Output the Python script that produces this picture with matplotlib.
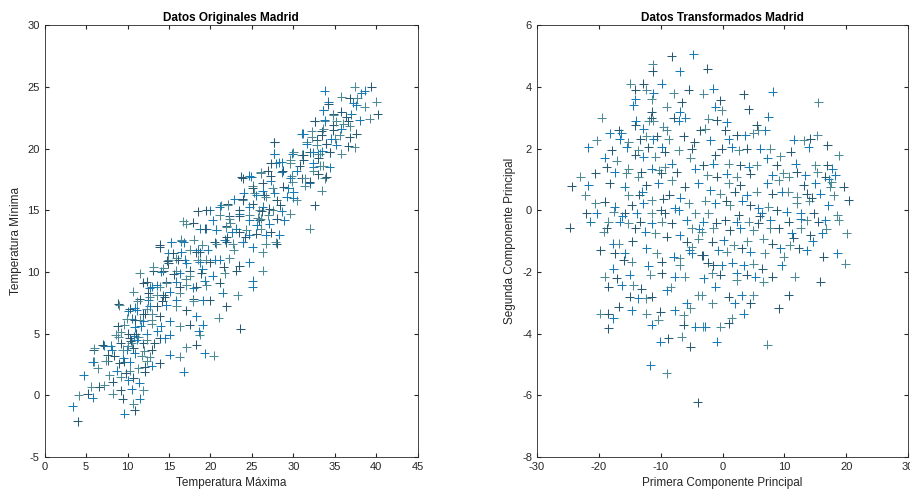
import numpy as np
import matplotlib.pyplot as plt

# (Temperatura Maxima, Temperatura Minima)
original = [
    (4.0, -2.1), (3.4, -0.9), (4.1, 0.0), (5.2, 0.1), (4.7, 1.6), (5.9, 2.7), (5.9, 3.7), (7.2, 4.0),
    (5.6, 0.7), (6.6, 0.7), (5.8, -0.2), (8.2, 0.1), (9.4, -0.3), (9.6, -1.5), (10.7, -0.7), (10.9, -1.2),
    (11.5, -0.3), (11.9, 0.4), (8.9, 7.4), (10.1, 6.8), (7.2, 0.8), (8.2, 1.1), (8.7, 2.0), (9.2, 1.5),
    (7.6, 2.8), (8.1, 3.7), (8.9, 4.7), (9.6, 2.7), (9.9, 3.7), (10.5, 4.2), (10.1, 5.0), (10.9, 5.5),
    (11.5, 6.1), (12.1, 6.6), (12.7, 7.2), (11.3, 4.7), (11.9, 4.2), (12.3, 5.0), (12.9, 5.8), (10.7, 1.4),
    (10.1, 1.2), (11.3, 2.2), (12.1, 1.9), (10.9, 3.4), (11.7, 3.2), (12.9, 3.7), (12.9, 2.4), (10.3, 2.0),
    (9.2, 0.4), (10.5, 0.5), (12.3, 2.8), (11.9, 6.6), (10.5, 6.2), (9.6, 5.7), (9.2, 4.2),
    (16.5, 12.5), (15.3, 12.4), (13.9, 12.2), (14.9, 11.5), (15.9, 11.1), (14.9, 10.7), (16.9, 11.0),
    (11.5, 9.9), (13.1, 10.1), (14.1, 10.0), (15.9, 10.1), (17.5, 10.1), (18.7, 10.8), (19.5, 11.0),
    (18.3, 11.6), (18.7, 13.5), (17.1, 13.9), (11.9, 9.1), (12.7, 8.7), (13.9, 8.8), (14.7, 9.2),
    (15.9, 9.2), (17.1, 8.9), (18.3, 8.8), (19.3, 9.3), (10.7, 8.4), (11.5, 7.8), (12.5, 7.7), (13.5, 8.1),
    (14.5, 8.0), (15.1, 8.4), (16.3, 8.3), (17.9, 7.8), (19.1, 7.7), (9.0, 7.3), (10.3, 7.0), (11.1, 6.9),
    (12.3, 7.0), (13.5, 7.2), (14.7, 7.3), (15.9, 7.2), (17.1, 6.9), (18.3, 6.4), (9.9, 6.2), (10.9, 6.1),
    (11.9, 6.0), (12.9, 6.1), (13.9, 6.4), (15.1, 6.0), (16.3, 5.6), (17.5, 5.7), (19.1, 5.7), (8.6, 4.9),
    (10.3, 4.6), (11.1, 4.5), (12.3, 4.5), (13.9, 4.6), (15.1, 4.9), (17.1, 3.9), (18.3, 4.1), (19.3, 3.4),
    (6.0, 3.8), (7.0, 4.1), (8.0, 4.0), (9.4, 3.7), (10.7, 3.8), (5.8, 2.7), (7.4, 2.8), (9.0, 2.6),
    (10.3, 2.7), (12.7, 3.1), (13.9, 2.6), (15.1, 3.3), (16.3, 3.1), (12.1, 2.3), (14.5, 4.6), (18.7, 4.9),
    (23.7, 17.7), (24.7, 17.8), (26.1, 18.0), (26.9, 18.2), (27.9, 18.8), (25.1, 17.0), (26.3, 17.2),
    (27.3, 17.4), (25.3, 16.4), (26.5, 16.2), (27.7, 16.4), (21.3, 15.4), (22.1, 15.5), (22.9, 15.9),
    (23.9, 15.8), (25.1, 15.5), (26.3, 15.3), (27.5, 15.0), (18.5, 14.9), (19.9, 15.0), (21.1, 14.6),
    (22.3, 14.5), (23.5, 14.7), (24.7, 14.6), (25.9, 14.2), (27.1, 13.9), (16.7, 14.1), (17.9, 14.0),
    (19.5, 13.5), (20.7, 13.4), (21.9, 13.7), (23.1, 13.5), (24.3, 13.4), (25.5, 13.1), (26.7, 13.0),
    (27.9, 12.4), (20.5, 12.4), (21.7, 12.6), (22.7, 12.3), (23.9, 12.4), (25.1, 12.0), (26.3, 11.6),
    (13.9, 12.0), (15.3, 12.4), (16.5, 12.6), (15.5, 11.5), (16.5, 11.6), (17.5, 11.8), (18.7, 11.6),
    (19.7, 11.8), (14.9, 11.0), (16.1, 11.0), (17.1, 10.7), (18.5, 11.0), (19.9, 10.8), (21.1, 11.0),
    (22.3, 11.1), (23.5, 10.5), (24.7, 10.8), (13.1, 10.4), (14.3, 10.1), (16.3, 9.9), (17.5, 9.7),
    (18.9, 9.9), (20.3, 9.7), (21.7, 9.9), (23.1, 10.1), (25.1, 9.3), (26.3, 10.1), (12.3, 9.2),
    (13.5, 8.9), (14.7, 9.1), (16.3, 8.8), (17.9, 8.7), (19.5, 8.9), (21.1, 9.1), (25.1, 8.8), (12.7, 8.0),
    (14.3, 8.1), (15.9, 7.7), (17.9, 7.6), (19.9, 7.7), (21.5, 8.3), (23.3, 8.1), (21.9, 7.2),
    (34.2, 23.8), (33.6, 23.1), (34.8, 22.8), (32.6, 22.2), (33.8, 22.2), (34.8, 21.9), (31.0, 21.2),
    (32.2, 21.4), (33.4, 21.4), (27.7, 20.5), (31.6, 20.5), (32.8, 20.7), (34.0, 20.4), (35.0, 20.8),
    (27.7, 19.6), (29.9, 19.6), (31.0, 19.5), (32.0, 19.7), (33.0, 19.6), (34.4, 19.7), (27.3, 18.8),
    (28.6, 18.9), (29.6, 18.8), (30.8, 18.6), (32.4, 18.5), (33.6, 18.6), (23.9, 17.6), (24.9, 17.7),
    (26.1, 18.1), (27.3, 17.8), (28.6, 18.1), (29.8, 17.8), (31.0, 17.6), (32.0, 17.2), (33.8, 17.6),
    (25.1, 16.8), (26.3, 16.6), (27.5, 16.8), (28.8, 16.9), (30.0, 16.5), (33.4, 16.6), (23.9, 15.9),
    (25.5, 16.2), (26.7, 16.1), (28.0, 15.8), (29.2, 16.1), (30.4, 15.8), (19.5, 15.0), (21.1, 15.3),
    (22.1, 15.4), (23.5, 15.0), (24.7, 15.3), (25.9, 15.0), (27.1, 15.1), (28.6, 14.9), (29.6, 14.7),
    (32.6, 15.4), (20.3, 14.2), (22.3, 14.3), (23.5, 14.5), (24.7, 14.2), (26.1, 14.3), (28.0, 14.3),
    (28.9, 14.2), (32.0, 13.5), (19.3, 13.5), (20.7, 13.4), (21.9, 13.6), (23.5, 13.2), (24.7, 13.0),
    (26.1, 13.5), (27.3, 13.2), (28.3, 13.0), (20.7, 12.3), (21.9, 12.4), (23.9, 12.4), (26.7, 12.3),
    (28.0, 12.3),
    (33.8, 24.7), (37.4, 25.0), (39.4, 25.0), (38.6, 24.7), (35.8, 24.2), (36.8, 24.1), (38.2, 24.5),
    (40.0, 23.8), (34.2, 23.6), (37.6, 23.5), (38.6, 23.4), (40.2, 22.8), (33.6, 23.1), (34.8, 22.7),
    (35.8, 23.0), (37.0, 22.8), (39.2, 22.4), (32.6, 22.2), (33.8, 22.3), (35.2, 22.2), (36.6, 22.2),
    (38.0, 22.3), (33.6, 21.6), (34.8, 21.5), (35.8, 21.6), (36.8, 21.8), (37.6, 21.2), (31.2, 21.2),
    (32.2, 20.9), (33.4, 21.1), (34.6, 20.8), (35.6, 21.1), (36.8, 20.9), (31.6, 20.4), (32.8, 20.3),
    (34.0, 20.4), (35.2, 20.3), (37.4, 20.1), (27.7, 20.5), (27.7, 19.6), (30.0, 19.7), (31.2, 19.5),
    (32.4, 19.7), (33.2, 19.6), (34.4, 19.7), (28.3, 18.9), (29.6, 19.1), (31.2, 19.1), (32.4, 18.8),
    (33.2, 18.6), (28.7, 18.2), (30.4, 18.2), (32.4, 18.2), (34.0, 17.7), (29.6, 17.6), (31.4, 17.6),
    (32.0, 17.3),
    (16.8, 1.9), (20.4, 3.2), (23.6, 5.4), (18.6, 5.2), (21.0, 6.3),
    # denser clumps along the band
    (10.4, 4.4), (10.8, 4.8), (9.2, 5.1), (8.8, 5.6), (10.9, 7.1), (11.2, 7.6), (12.5, 8.3), (12.9, 8.8),
    (14.3, 10.3), (14.8, 10.9), (18.5, 11.8), (19.0, 12.2), (22.0, 12.8), (22.6, 13.2), (25.7, 14.4),
    (26.2, 14.9), (29.4, 16.8), (29.9, 17.3), (33.0, 19.2), (33.5, 19.8), (36.0, 22.0), (36.4, 22.6),
    (37.2, 23.7), (37.7, 24.1), (8.4, 3.2), (9.5, 3.0), (10.0, 4.0), (11.0, 5.0), (11.6, 5.6), (12.0, 3.6),
    (13.2, 4.2), (13.6, 5.2), (13.0, 6.6), (14.2, 7.6), (14.0, 5.6), (7.8, 1.6), (9.8, 1.8), (11.4, 1.0),
    (6.4, 2.2), (7.6, 3.3), (20.6, 11.0), (22.8, 11.8), (24.2, 12.8), (25.6, 13.8), (27.0, 14.6),
    (28.4, 15.4), (30.0, 16.0), (31.4, 17.0), (33.0, 17.9), (34.4, 18.5), (35.8, 19.6), (36.6, 20.2),
    (24.0, 16.4), (22.4, 14.0), (21.6, 10.4), (19.0, 10.2), (17.0, 9.4), (15.6, 9.8), (16.8, 12.4),
    (18.0, 12.6),
]

# (Primera, Segunda Componente Principal)
transformed = [
    (-8.2, 5.0), (-4.7, 5.06), (-11.3, 4.73), (-11.3, 4.5), (-6.9, 4.5), (-14.9, 4.1), (-12.8, 4.1),
    (-9.8, 4.1), (-12.3, 3.9), (-14.1, 3.9), (-11.2, 3.8), (-7.9, 3.8), (-5.5, 3.9), (-14.1, 3.6),
    (-11.4, 3.6), (-6.6, 3.5), (-14.4, 3.4), (-9.0, 3.35), (-11.4, 3.2), (-6.9, 3.2), (-19.5, 3.0),
    (-7.9, 3.0), (-7.1, 2.9), (-11.2, 2.9), (-14.1, 2.75), (-12.8, 2.65), (-9.6, 2.7), (-3.6, 2.6),
    (-18.2, 2.5), (-12.3, 2.4), (-10.6, 2.4), (-16.6, 2.3), (-15.2, 2.2), (-13.3, 2.3), (-11.2, 2.3),
    (-8.7, 2.3), (-6.3, 2.4), (-21.7, 2.05), (-20.3, 2.27), (-17.9, 1.95), (-15.5, 2.05), (-13.6, 1.95),
    (-12.0, 2.05), (-9.8, 2.05), (-7.1, 1.95), (-5.0, 2.0), (-19.0, 1.7), (-17.1, 1.6), (-14.1, 1.8),
    (-12.8, 1.73), (-10.9, 1.73), (-9.3, 1.9), (-8.2, 1.5), (-5.2, 1.7), (-18.7, 1.4), (-17.4, 1.24),
    (-15.2, 1.35), (-13.1, 1.24), (-11.4, 1.35), (-9.3, 1.4), (-7.4, 1.24), (-4.4, 1.35), (-23.0, 1.08),
    (-24.4, 0.78), (-21.7, 0.81), (-22.2, 0.49), (-18.2, 0.87), (-15.8, 0.76), (-13.6, 1.08), (-12.3, 0.81),
    (-10.4, 0.87), (-8.2, 0.97), (-6.1, 0.76), (-3.9, 0.87), (-20.6, 0.22), (-19.0, 0.27), (-17.4, 0.11),
    (-15.2, 0.49), (-14.7, 0.16), (-12.8, 0.22), (-11.4, 0.33), (-9.6, 0.38), (-7.7, 0.06), (-5.5, 0.22),
    (-22.0, -0.1), (-20.3, -0.1), (-17.6, -0.05), (-15.8, -0.1), (-13.9, -0.1), (-11.4, -0.1), (-9.3, -0.1),
    (-7.1, 0.0), (-4.4, -0.1),
    (-2.5, 4.59), (-1.5, 3.94), (-3.1, 3.78), (3.4, 3.76), (8.1, 3.84), (15.5, 3.51), (-0.4, 3.57),
    (-1.2, 3.35), (-0.1, 3.24), (4.2, 3.27), (7.4, 3.03), (-2.3, 2.97), (-0.9, 2.92), (0.7, 2.86),
    (-2.8, 2.65), (5.5, 2.76), (6.9, 2.59), (5.8, 2.59), (2.3, 2.43), (3.7, 2.43), (5.0, 2.49), (0.4, 2.59),
    (-2.0, 2.27), (15.3, 2.43), (14.2, 2.32), (11.5, 2.29), (13.1, 2.27), (16.9, 2.11), (13.9, 2.05),
    (18.8, 1.78), (-0.1, 2.0), (1.5, 2.05), (2.6, 1.95), (3.9, 2.0), (6.1, 2.0), (7.7, 2.0), (-1.2, 1.78),
    (7.2, 1.68), (9.3, 1.75), (-3.1, 1.46), (-1.5, 1.51), (1.0, 1.51), (2.9, 1.46), (4.2, 1.41), (5.5, 1.46),
    (8.8, 1.46), (11.8, 1.51), (15.0, 1.46), (16.9, 1.46), (17.7, 1.35), (-2.5, 1.14), (-0.9, 1.08),
    (0.7, 1.19), (2.3, 1.08), (4.5, 1.19), (8.0, 1.14), (10.7, 1.08), (12.0, 1.24), (13.4, 1.14),
    (15.3, 1.24), (16.6, 1.08), (18.2, 1.14), (1.0, 0.87), (2.9, 0.81), (7.2, 0.87), (9.1, 0.97),
    (13.1, 0.81), (15.0, 0.87), (17.4, 0.76), (19.6, 0.76), (-2.0, 0.65), (-0.4, 0.54), (2.0, 0.6),
    (3.9, 0.49), (5.5, 0.6), (8.0, 0.54), (9.6, 0.6), (12.0, 0.43), (13.6, 0.54), (15.8, 0.54), (18.0, 0.49),
    (20.4, 0.33), (-1.2, 0.22), (1.2, 0.16), (4.5, 0.16), (5.8, 0.06), (7.4, 0.11), (8.8, 0.0), (10.4, -0.05),
    (12.0, 0.22), (14.7, -0.1), (17.1, 0.16), (-2.3, -0.1), (2.6, -0.16), (12.6, -0.1), (18.5, -0.16),
    (-24.7, -0.57), (-21.4, -0.38), (-18.5, -0.38), (-18.7, -0.59), (-16.6, -0.38), (-15.2, -0.43),
    (-13.3, -0.38), (-11.4, -0.43), (-9.8, -0.38), (-8.2, -0.43), (-5.8, -0.32), (-5.0, -0.59),
    (-14.1, -0.59), (-12.5, -0.7), (-10.9, -0.75), (-9.0, -0.86), (-6.9, -0.81), (-3.9, -0.92),
    (-19.8, -1.29), (-17.7, -1.08), (-16.8, -1.08), (-17.4, -1.4), (-15.8, -1.4), (-14.7, -1.67),
    (-16.0, -1.62), (-12.3, -1.24), (-10.6, -1.4), (-9.8, -1.67), (-7.9, -1.51), (-6.9, -1.56),
    (-5.8, -1.02), (-5.0, -1.4), (-6.9, -1.78), (-3.4, -1.46), (-17.7, -1.89), (-19.0, -2.16),
    (-17.1, -2.21), (-15.0, -2.1), (-11.7, -2.1), (-9.8, -2.05), (-7.7, -2.16), (-6.1, -2.16),
    (-18.5, -2.48), (-16.3, -2.43), (-14.4, -2.43), (-13.1, -2.54), (-9.0, -2.59), (-3.9, -2.75),
    (-15.0, -2.81), (-13.6, -2.86), (-12.3, -2.86), (-11.4, -2.81), (-5.8, -3.02), (-5.2, -3.18),
    (-16.8, -3.13), (-14.7, -3.24), (-19.8, -3.35), (-18.5, -3.35), (-17.7, -3.51), (-12.3, -3.35),
    (-10.1, -3.29), (-7.7, -3.24), (-6.3, -3.4), (-18.5, -3.83), (-11.4, -3.72), (-10.4, -3.56),
    (-6.3, -3.72), (-4.4, -3.78), (-3.1, -3.78), (-8.8, -4.16), (-10.1, -4.26), (-6.6, -4.1),
    (-5.2, -4.43), (-11.7, -5.02), (-9.0, -5.29), (-4.0, -6.23),
    (-3.1, -0.38), (-1.5, -0.59), (0.4, -0.32), (2.3, -0.38), (4.2, -0.38), (5.8, -0.43), (7.7, -0.32),
    (7.7, -0.59), (10.7, -0.38), (12.6, -0.27), (13.6, -0.32), (15.5, -0.38), (16.6, -0.32), (18.8, -0.32),
    (1.2, -0.65), (2.9, -0.59), (5.0, -0.65), (9.1, -0.59), (11.2, -0.75), (12.6, -0.59), (14.2, -0.81),
    (16.1, -0.75), (20.1, -0.75), (-1.7, -1.02), (0.2, -0.97), (1.8, -1.13), (3.1, -1.24), (4.5, -1.35),
    (6.6, -0.92), (8.0, -1.08), (9.3, -1.24), (10.9, -1.13), (12.3, -1.24), (13.6, -1.29), (9.9, -1.51),
    (16.3, -1.51), (18.5, -1.4), (19.8, -1.73), (-3.1, -1.46), (-0.7, -1.29), (0.7, -1.35), (-1.5, -1.78),
    (-0.1, -1.78), (-1.7, -2.05), (-0.4, -2.1), (2.3, -2.05), (2.3, -2.27), (3.9, -2.1), (5.3, -2.16),
    (6.6, -2.32), (8.0, -2.16), (3.4, -1.78), (5.0, -1.73), (6.4, -1.89), (9.6, -1.78), (11.7, -2.16),
    (15.8, -2.32), (-1.2, -2.48), (-3.4, -2.75), (1.0, -2.81), (3.1, -2.75), (5.0, -2.75), (4.5, -3.02),
    (2.0, -3.02), (-1.7, -3.02), (10.7, -2.75), (3.4, -3.35), (1.5, -3.51), (1.0, -3.67), (-2.8, -3.78),
    (-0.4, -3.78), (9.1, -3.18), (-0.9, -4.26), (7.2, -4.37),
    # denser clumps
    (-13.5, 0.5), (-13.0, 0.6), (-10.3, 1.3), (-9.9, 1.2), (-3.8, -0.6), (-3.4, -0.7), (6.0, -0.2),
    (6.3, -0.1), (14.0, 0.3), (14.4, 0.4), (17.2, 1.0), (17.6, 0.9), (-16.8, 2.6), (-16.4, 2.5),
    (-11.9, 2.9), (-11.5, 3.0), (-5.4, -1.3), (-5.0, -1.2), (-8.6, 0.5), (-6.8, 0.4), (-2.8, 0.3),
    (0.6, 0.3), (3.2, 0.3), (10.6, 0.6), (-1.0, -0.4), (-16.2, -0.2), (-19.2, -0.7), (-14.6, -1.0),
    (-12.0, -1.8), (-8.4, -2.5), (-2.4, -1.7), (1.6, -1.7), (6.8, -1.4), (11.4, -0.9), (14.6, -1.0),
    (16.8, -0.6), (-20.6, 1.2), (-14.0, 2.9), (-9.0, 2.6), (-4.6, 2.2), (1.0, 2.3), (9.8, 1.2),
    (11.0, 1.9), (-6.0, 3.0), (-15.6, 1.2), (-10.0, 0.0), (-3.0, -2.2), (4.0, -1.0),
]

tmax, tmin = np.array(original).T
pc1, pc2 = np.array(transformed).T

shades = ["#2a5a72", "#1a7bb4", "#4d8a96"]
text_color = "#262626"

plt.rcParams["font.family"] = ["Liberation Sans", "DejaVu Sans"]
plt.rcParams["font.size"] = 8
plt.rcParams["axes.unicode_minus"] = False

fig = plt.figure(figsize=(9.1, 4.95), dpi=100)
ax1 = fig.add_axes([0.049, 0.077, 0.410, 0.872])
ax2 = fig.add_axes([0.590, 0.077, 0.408, 0.872])


def draw(ax, x, y):
    cols = [shades[i % len(shades)] for i in range(len(x))]
    ax.scatter(x, y, marker="+", s=42, c=cols, linewidths=0.75)
    ax.tick_params(direction="in", top=True, right=True, colors=text_color, labelsize=8, length=3)
    for sp in ax.spines.values():
        sp.set_color(text_color)
        sp.set_linewidth(0.6)


draw(ax1, tmax, tmin)
ax1.set_xlim(0, 45)
ax1.set_ylim(-5, 30)
ax1.set_xticks(np.arange(0, 46, 5))
ax1.set_yticks(np.arange(-5, 31, 5))
ax1.set_title("Datos Originales Madrid", fontweight="bold", fontsize=8.5, color="black", pad=3)
ax1.set_xlabel("Temperatura Máxima", color=text_color, fontsize=8.5)
ax1.set_ylabel("Temperatura Mínima", color=text_color, fontsize=8.5)

draw(ax2, pc1, pc2)
ax2.set_xlim(-30, 30)
ax2.set_ylim(-8, 6)
ax2.set_xticks(np.arange(-30, 31, 10))
ax2.set_yticks(np.arange(-8, 7, 2))
ax2.set_title("Datos Transformados Madrid", fontweight="bold", fontsize=8.5, color="black", pad=3)
ax2.set_xlabel("Primera Componente Principal", color=text_color, fontsize=8.5)
ax2.set_ylabel("Segunda Componente Principal", color=text_color, fontsize=8.5)

fig.savefig("out.png", dpi=100)
